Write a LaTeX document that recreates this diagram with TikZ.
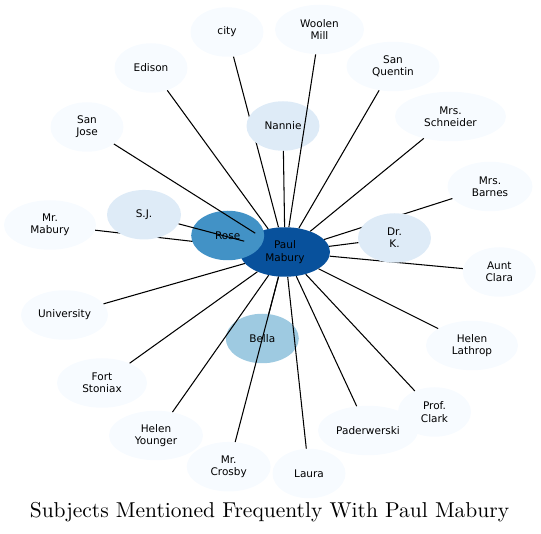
\documentclass[tikz,border=0pt]{standalone}
\usepackage{fontspec}
\newfontfamily\dejavu{DejaVu Sans}
\newfontfamily\lmten{lmroman10-regular}[Extension=.otf]
\usetikzlibrary{shapes.geometric}
\definecolor{cA}{HTML}{F7FBFF}
\definecolor{cB}{HTML}{DEEBF7}
\definecolor{cC}{HTML}{9ECAE1}
\definecolor{cD}{HTML}{4292C6}
\definecolor{cE}{HTML}{08519C}
\pgfdeclarelayer{under}
\pgfsetlayers{under,main}
\tikzset{
  ell/.style={ellipse, inner sep=0pt, minimum height=49.5pt, draw=none,
    font=\dejavu\fontsize{10.5}{12.3}\selectfont, align=center, text=black},
  edge/.style={draw=black, line width=1.05pt},
}
\begin{document}
\begin{tikzpicture}[x=1pt,y=-1pt]
\useasboundingbox (0,0) rectangle (541,534);
% nodes
\node[ell, fill=cA, minimum width=73] (city) at (227,32) {city};
\node[ell, fill=cA, minimum width=89] (woolen) at (319.5,29.5) {Woolen\\Mill};
\node[ell, fill=cA, minimum width=93] (quentin) at (393,66.5) {San\\Quentin};
\node[ell, fill=cA, minimum width=73] (edison) at (151,68) {Edison};
\node[ell, fill=cA, minimum width=111] (schneider) at (450.5,116.5) {Mrs.\\Schneider};
\node[ell, fill=cA, minimum width=73] (sanjose) at (87,127) {San\\Jose};
\node[ell, fill=cA, minimum width=85] (barnes) at (490,186.5) {Mrs.\\Barnes};
\node[ell, fill=cA, minimum width=92] (mrmabury) at (50,225) {Mr.\\Mabury};
\node[ell, fill=cA, minimum width=73] (clara) at (499.3,272) {Aunt\\Clara};
\node[ell, fill=cA, minimum width=87] (univ) at (64.5,315) {University};
\node[ell, fill=cA, minimum width=92] (lathrop) at (472,345.5) {Helen\\Lathrop};
\node[ell, fill=cA, minimum width=90] (stoniax) at (102,383) {Fort\\Stoniax};
\node[ell, fill=cA, minimum width=100] (pader) at (368,430.5) {Paderwerski};
\node[ell, fill=cA, minimum width=73] (clark) at (434.5,412) {Prof.\\Clark};
\node[ell, fill=cA, minimum width=94] (younger) at (156,435.5) {Helen\\Younger};
\node[ell, fill=cA, minimum width=84] (crosby) at (228.7,466.7) {Mr.\\Crosby};
\node[ell, fill=cA, minimum width=73] (laura) at (309,473.5) {Laura};
\node[ell, fill=cB, minimum width=73] (nannie) at (283,126) {Nannie};
\node[ell, fill=cB, minimum width=74] (sj) at (144,214.7) {S.J.};
\node[ell, fill=cB, minimum width=73] (drk) at (394.5,238) {Dr.\\K.};
\node[ell, fill=cC, minimum width=73] (bella) at (262.3,338.5) {Bella};
\node[ell, fill=cE, minimum width=90] (paul) at (285,252) {Paul\\Mabury};
\node[ell, fill=cD, minimum width=73] (rose) at (227.7,235.5) {Rose};
% edges hidden below nodes
\begin{pgfonlayer}{under}
\draw[edge] (paul) -- (city);
\draw[edge] (paul) -- (mrmabury);
\draw[edge] (paul) -- (barnes);
\draw[edge] (paul) -- (clara);
\end{pgfonlayer}
% edges over nodes
\draw[edge] (paul) -- (woolen);
\draw[edge] (paul) -- (quentin);
\draw[edge] (paul) -- (edison);
\draw[edge] (paul) -- (schneider);
\draw[edge] (paul) -- (sanjose);
\draw[edge] (paul) -- (univ);
\draw[edge] (paul) -- (lathrop);
\draw[edge] (paul) -- (stoniax);
\draw[edge] (paul) -- (pader);
\draw[edge] (paul) -- (clark);
\draw[edge] (paul) -- (younger);
\draw[edge] (paul) -- (crosby);
\draw[edge] (paul) -- (laura);
\draw[edge] (paul) -- (nannie);
\draw[edge] (paul) -- (sj);
\draw[edge] (paul) -- (drk);
\draw[edge] (paul) -- (bella);
% title
\node[anchor=base, inner sep=0pt, font=\lmten\fontsize{21.5}{25}\selectfont] (title) at (269.5,517.3) {Subjects Mentioned Frequently With Paul Mabury};
\end{tikzpicture}
\end{document}
